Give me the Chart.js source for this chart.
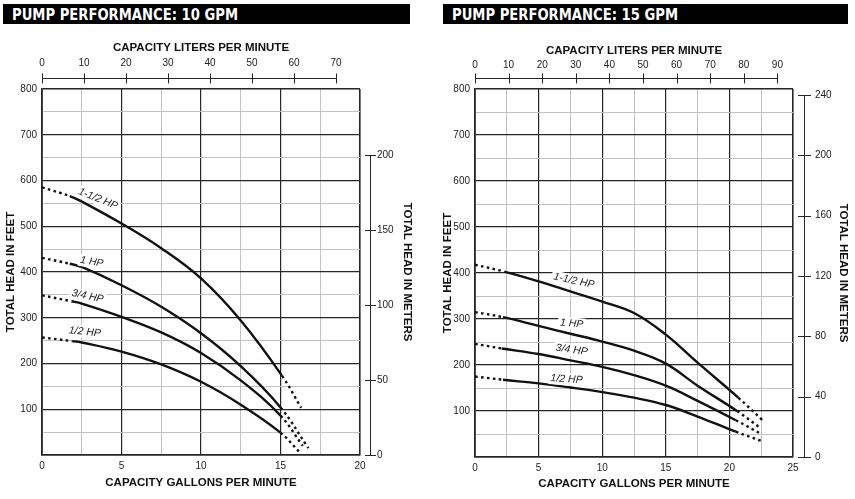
<!DOCTYPE html>
<html>
<head>
<meta charset="utf-8">
<script src="https://cdn.jsdelivr.net/npm/chart.js@4.4.1/dist/chart.umd.min.js"></script>
<style>
  body { margin: 0; background: #fff; width: 855px; height: 499px; overflow: hidden; position: relative; }
  .bar { position: absolute; top: 4px; height: 20px; background: #000; color: #fff; box-sizing: border-box;
         padding-left: 9px; font: bold 16px "DejaVu Sans Condensed", "DejaVu Sans", sans-serif; line-height: 21px; white-space: nowrap; }
  .bar span { display: inline-block; transform-origin: 0 50%; }
  canvas { position: absolute; top: 0; }
</style>
</head>
<body>
<div class="bar" style="left:3px;width:407px"><span>PUMP PERFORMANCE: 10 GPM</span></div>
<div class="bar" style="left:443px;width:405px"><span>PUMP PERFORMANCE: 15 GPM</span></div>
<canvas id="chart10" width="420" height="499" style="left:0"></canvas>
<canvas id="chart15" width="435" height="499" style="left:420px"></canvas>
<script>
const LPM_PER_GPM = 3.78541;
const FT_PER_M = 3.28084;
const hpNames = ['1-1/2 HP', '1 HP', '3/4 HP', '1/2 HP'];

// ---- 10 GPM pump ----
const lpmTicks10 = [0, 10, 20, 30, 40, 50, 60, 70];
const meterTicks10 = [0, 50, 100, 150, 200];
const hp150_10_gpm = [0, 1.75, 2.5, 5, 7.5, 10, 12.5, 15.1, 16.3];
const hp150_10_ft = [585, 566, 554, 506, 452, 386, 294, 173, 103];
const hp100_10_gpm = [0, 1.75, 2.5, 5, 7.5, 10, 12.5, 15, 16.75];
const hp100_10_ft = [431, 418, 411, 371, 324, 266, 194, 104, 15];
const hp075_10_gpm = [0, 1.85, 2.5, 5, 7.5, 10, 12.5, 15, 16.4];
const hp075_10_ft = [349, 336, 331, 302, 268, 223, 163, 86, 20];
const hp050_10_gpm = [0, 1.9, 2.5, 5, 7.5, 10, 12.5, 15, 16.15];
const hp050_10_ft = [257, 249, 246, 226, 198, 160, 110, 49, 8];

// ---- 15 GPM pump ----
const lpmTicks15 = [0, 10, 20, 30, 40, 50, 60, 70, 80, 90];
const meterTicks15 = [0, 40, 80, 120, 160, 200, 240];
const hp150_15_gpm = [0, 2.3, 5, 7.5, 10, 12.5, 15, 17.5, 20.7, 22.6];
const hp150_15_ft = [418, 403, 382, 360, 338, 313, 266, 205, 129, 80];
const hp100_15_gpm = [0, 2.2, 5, 7.5, 10, 12.5, 15, 17.5, 20.6, 22.5];
const hp100_15_ft = [315, 304, 285, 268, 251, 231, 203, 155, 100, 62];
const hp075_15_gpm = [0, 2.1, 5, 7.5, 10, 12.5, 15, 17.5, 20.5, 22.5];
const hp075_15_ft = [246, 236, 224, 210, 196, 178, 155, 122, 80, 50];
const hp050_15_gpm = [0, 2.2, 5, 7.5, 10, 12.5, 15, 17.5, 20.5, 22.5];
const hp050_15_ft = [175, 168, 160, 151, 141, 129, 113, 88, 55, 35];

// where the curve names sit: [gpm, feet, angle in degrees]
const labelSpots10 = [[3.52, 560, 22], [3.13, 422, 10], [2.87, 347, 12], [2.69, 269, 6]];
const labelSpots15 = [[7.78, 383, 12], [7.6, 290, 5], [7.6, 233, 8], [7.2, 169, 4]];

// squeeze the header text to the width of the original condensed face
document.querySelectorAll('.bar span').forEach(s => {
  const w = s.getBoundingClientRect().width;
  s.style.transform = 'scaleX(' + (226 / w) + ')';
});

Chart.defaults.font.family = '"Liberation Sans", Arial, sans-serif';
Chart.defaults.color = '#222';

const DARK = '#262626', LIGHT = '#c2c2c2';

function curve(gpm, ft) {
  const n = gpm.length;
  return {
    data: gpm.map((g, i) => ({ x: g, y: ft[i] })),
    borderColor: '#111',
    borderWidth: 2.4,
    pointRadius: 0,
    tension: 0.4,
    borderCapStyle: 'butt',
    segment: {
      borderDash: c => (c.p0DataIndex === 0 || c.p1DataIndex === n - 1) ? [2.6, 3.4] : undefined
    }
  };
}

// draws the detached liters axis, the meters axis and the curve names
const extraAxes = {
  id: 'extraAxes',
  afterDraw(chart, args, o) {
    const { ctx, chartArea: a, scales } = chart;
    ctx.save();
    ctx.strokeStyle = DARK;
    ctx.lineWidth = 1;
    const line = (x1, y1, x2, y2) => { ctx.beginPath(); ctx.moveTo(x1, y1); ctx.lineTo(x2, y2); ctx.stroke(); };

    const top = scales.x2;
    const ly = Math.round(a.top - o.topGap) + 0.5;
    const lx = top.ticks.map(t => Math.round(top.getPixelForValue(t.value)) + 0.5);
    line(lx[0], ly, lx[lx.length - 1], ly);
    lx.forEach(x => line(x, ly - 5, x, ly + 5));

    const side = scales.y2;
    const mx = Math.round(a.right + o.sideGap) + 0.5;
    const my = side.ticks.map(t => Math.round(side.getPixelForValue(t.value)) + 0.5);
    line(mx, my[0], mx, my[my.length - 1]);
    my.forEach(y => line(mx - o.tick, y, mx + o.tick, y));

    ctx.font = 'italic 10.5px "Liberation Sans", Arial, sans-serif';
    ctx.textAlign = 'center';
    ctx.textBaseline = 'middle';
    o.spots.forEach((s, i) => {
      const px = scales.x.getPixelForValue(s[0]);
      const py = scales.y.getPixelForValue(s[1]);
      const w = ctx.measureText(hpNames[i]).width;
      ctx.save();
      ctx.translate(px, py);
      ctx.rotate(s[2] * Math.PI / 180);
      ctx.fillStyle = '#fff';
      ctx.fillRect(-w / 2 - 2, -6, w + 4, 12);
      ctx.fillStyle = '#222';
      ctx.fillText(hpNames[i], 0, 0);
      ctx.restore();
    });
    ctx.restore();
  }
};

function titleOpts(text, padding) {
  return { display: true, text, color: '#111', font: { size: 11.5, weight: 'bold' }, padding };
}

function buildChart(id, g) {
  const fit = size => s => {
    if (s.isHorizontal()) s.height = size; else s.width = size;
  };
  new Chart(document.getElementById(id), {
    type: 'line',
    data: { datasets: g.curves },
    plugins: [extraAxes],
    options: {
      responsive: false,
      animation: false,
      events: [],
      layout: { padding: 0 },
      plugins: {
        legend: { display: false },
        tooltip: { enabled: false },
        extraAxes: { topGap: 11, sideGap: g.sideGap, tick: g.sideTick, spots: g.spots }
      },
      scales: {
        x: {
          type: 'linear', position: 'bottom', min: 0, max: g.gpmMax,
          afterFit: fit(g.bottomH),
          ticks: { stepSize: 2.5, autoSkip: false, maxRotation: 0, padding: 5, font: { size: 10 },
                   callback: v => v % 5 === 0 ? String(v) : '' },
          grid: {
            drawTicks: false,
            color: c => c.tick && c.tick.value % 5 === 0 ? DARK : LIGHT,
            lineWidth: c => c.tick && (c.tick.value === 0 || c.tick.value === g.gpmMax) ? 1.6 : (c.tick && c.tick.value % 5 === 0 ? 1.2 : 1)
          },
          border: { display: true, color: DARK, width: 1.6 },
          title: titleOpts('CAPACITY GALLONS PER MINUTE', { top: 0, bottom: g.bottomTitlePad })
        },
        x2: {
          type: 'linear', position: 'top', min: 0, max: g.gpmMax * LPM_PER_GPM,
          afterFit: fit(g.topH),
          afterBuildTicks: s => { s.ticks = g.lpmTicks.map(v => ({ value: v })); },
          ticks: { autoSkip: false, maxRotation: 0, padding: g.topTickPad, font: { size: 10 } },
          grid: { display: false, drawTicks: false },
          border: { display: false },
          title: titleOpts('CAPACITY LITERS PER MINUTE', { top: g.topTitlePad, bottom: 0 })
        },
        y: {
          type: 'linear', position: 'left', min: 0, max: 800,
          afterFit: fit(g.leftW),
          ticks: { stepSize: 50, autoSkip: false, padding: 5, font: { size: 10 },
                   callback: v => (v % 100 === 0 && v !== 0) ? String(v) : '' },
          grid: {
            drawTicks: false,
            color: c => c.tick && c.tick.value % 100 === 0 ? DARK : LIGHT,
            lineWidth: c => c.tick && (c.tick.value === 0 || c.tick.value === 800) ? 1.6 : (c.tick && c.tick.value % 100 === 0 ? 1.2 : 1)
          },
          border: { display: true, color: DARK, width: 1.6 },
          title: titleOpts('TOTAL HEAD IN FEET', { top: g.leftTitlePad, bottom: 0 })
        },
        y2: {
          type: 'linear', position: 'right', min: 0, max: 800 / FT_PER_M,
          afterFit: fit(g.rightW),
          afterBuildTicks: s => { s.ticks = g.meterTicks.map(v => ({ value: v })); },
          ticks: { autoSkip: false, padding: g.rightTickPad, font: { size: 10 } },
          grid: { display: false, drawTicks: false },
          border: { display: false },
          title: titleOpts('TOTAL HEAD IN METERS', { top: g.rightTitlePad, bottom: 0 })
        }
      }
    }
  });
}

buildChart('chart10', {
  gpmMax: 20,
  lpmTicks: lpmTicks10,
  meterTicks: meterTicks10,
  curves: [
    curve(hp150_10_gpm, hp150_10_ft),
    curve(hp100_10_gpm, hp100_10_ft),
    curve(hp075_10_gpm, hp075_10_ft),
    curve(hp050_10_gpm, hp050_10_ft)
  ],
  spots: labelSpots10,
  leftW: 42, rightW: 60, topH: 89, bottomH: 44,
  topTickPad: 20, topTitlePad: 41, bottomTitlePad: 9,
  leftTitlePad: 4, rightTitlePad: 6, rightTickPad: 17,
  sideGap: 10, sideTick: 5.5
});

buildChart('chart15', {
  gpmMax: 25,
  lpmTicks: lpmTicks15,
  meterTicks: meterTicks15,
  curves: [
    curve(hp150_15_gpm, hp150_15_ft),
    curve(hp100_15_gpm, hp100_15_ft),
    curve(hp075_15_gpm, hp075_15_ft),
    curve(hp050_15_gpm, hp050_15_ft)
  ],
  spots: labelSpots15,
  leftW: 55, rightW: 62, topH: 89, bottomH: 42,
  topTickPad: 18, topTitlePad: 44, bottomTitlePad: 8,
  leftTitlePad: 21, rightTitlePad: 5, rightTickPad: 22,
  sideGap: 10.5, sideTick: 6.5
});
</script>
</body>
</html>
